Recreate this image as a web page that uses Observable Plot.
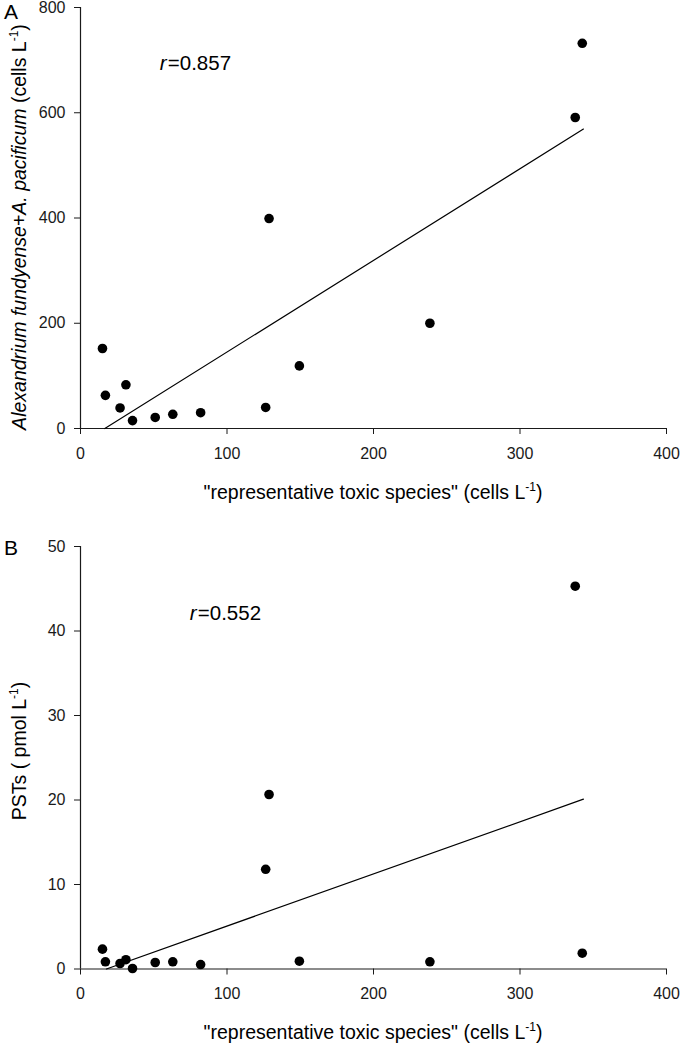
<!DOCTYPE html>
<html>
<head>
<meta charset="utf-8">
<script src="https://cdn.jsdelivr.net/npm/d3@7"></script>
<script src="https://cdn.jsdelivr.net/npm/@observablehq/plot@0.6"></script>
<style>
  html, body { margin: 0; padding: 0; background: #fff; }
  #chart svg { display: block; }
</style>
</head>
<body>
<div id="chart"></div>
<script>
// ---- data ----
const toxicSpecies = [15, 17, 27, 31, 35.5, 51, 63, 82, 126.4, 128.7, 149.4, 238.5, 337.7, 342.5];
const alexandrium  = [152, 63, 39, 83, 15, 21, 27, 30, 40, 399, 119, 200, 591, 732];
const psts         = [2.35, 0.85, 0.65, 1.1, 0.06, 0.77, 0.85, 0.53, 11.8, 20.65, 0.92, 0.85, 45.3, 1.87];

const fitAx = [16.6, 343.3], fitAy = [0, 569];
const fitBx = [17.7, 343.3], fitBy = [0, 20.1];

const xTicks = [0, 100, 200, 300, 400];
const yTicksA = [0, 200, 400, 600, 800];
const yTicksB = [0, 10, 20, 30, 40, 50];
const rA = "0.857", rB = "0.552";

const ptsA = toxicSpecies.map((x, i) => ({x, y: alexandrium[i]}));
const ptsB = toxicSpecies.map((x, i) => ({x, y: psts[i]}));
const lineA = fitAx.map((x, i) => ({x, y: fitAy[i]}));
const lineB = fitBx.map((x, i) => ({x, y: fitBy[i]}));

const FONT = "Arial, 'Liberation Sans', sans-serif";
const INK = "#1a1a1a";

function panel({pts, line, yDomain, yTicks, marginTop, marginBottom, rx, ry, rText}) {
  return Plot.plot({
    width: 680,
    height: 523,
    marginLeft: 80,
    marginRight: 14,
    marginTop,
    marginBottom,
    style: {fontFamily: FONT, fontSize: "16px", color: INK, background: "white", overflow: "visible"},
    x: {domain: [0, 400]},
    y: {domain: yDomain},
    marks: [
      Plot.axisX({ticks: xTicks, tickSize: 6, tickPadding: 13, label: null, tickFormat: d => d, fontSize: 16}),
      Plot.axisY({ticks: yTicks, tickSize: 6, tickPadding: 9, label: null, tickFormat: d => d, fontSize: 16}),
      Plot.ruleY([yDomain[0]], {stroke: INK, strokeWidth: 1.2}),
      Plot.ruleX([0], {stroke: INK, strokeWidth: 1.2}),
      Plot.line(line, {x: "x", y: "y", stroke: "#000", strokeWidth: 1.2}),
      Plot.dot(pts, {x: "x", y: "y", r: 4.8, fill: "#000", stroke: "none"}),
      Plot.text([rText], {x: rx, y: ry, text: d => "r", textAnchor: "start", fontStyle: "italic", fontSize: 20.5, fill: "#000"}),
      Plot.text([rText], {x: rx, y: ry, text: d => "=" + d, textAnchor: "start", dx: 8, fontSize: 20.5, fill: "#000"})
    ]
  });
}

function addYLabel(svg, cy, parts) {
  const t = d3.select(svg).append("text")
    .attr("transform", `translate(26,${cy}) rotate(-90)`)
    .attr("text-anchor", "middle")
    .attr("font-family", FONT)
    .attr("font-size", 19.5)
    .attr("fill", "#000");
  addParts(t, parts);
}
function addXLabel(svg, y) {
  const t = d3.select(svg).append("text")
    .attr("x", 373).attr("y", y)
    .attr("text-anchor", "middle")
    .attr("font-family", FONT)
    .attr("font-size", 19.5)
    .attr("fill", "#000");
  addParts(t, [["\"representative toxic species\" (cells L"], ["-1", "sup"], [")", "unsup"]]);
}
function addParts(t, parts) {
  for (const [s, kind] of parts) {
    const sp = t.append("tspan").text(s);
    if (kind === "i") sp.attr("font-style", "italic");
    if (kind === "sup") sp.attr("font-size", 12).attr("dy", -8);
    if (kind === "unsup") sp.attr("dy", 8);
  }
}
function addLetter(svg, letter, y) {
  d3.select(svg).append("text")
    .attr("x", 4).attr("y", y)
    .attr("text-anchor", "start")
    .attr("font-family", FONT).attr("font-size", 21).attr("fill", "#000")
    .text(letter);
}

const svgA = panel({pts: ptsA, line: lineA, yDomain: [0, 800], yTicks: yTicksA,
  marginTop: 7, marginBottom: 95, rx: 54.1, ry: 694, rText: rA});
addYLabel(svgA, 227, [["Alexandrium fundyense", "i"], ["+"], ["A. pacificum", "i"], [" (cells L"], ["-1", "sup"], [")", "unsup"]]);
addXLabel(svgA, 498.5);
addLetter(svgA, "A", 19);

const svgB = panel({pts: ptsB, line: lineB, yDomain: [0, 50], yTicks: yTicksB,
  marginTop: 23, marginBottom: 77.5, rx: 74.6, ry: 42.1, rText: rB});
addYLabel(svgB, 228, [["PSTs ( pmol L"], ["-1", "sup"], [")", "unsup"]]);
addXLabel(svgB, 516);
addLetter(svgB, "B", 32);

document.getElementById("chart").append(svgA, svgB);
</script>
</body>
</html>
